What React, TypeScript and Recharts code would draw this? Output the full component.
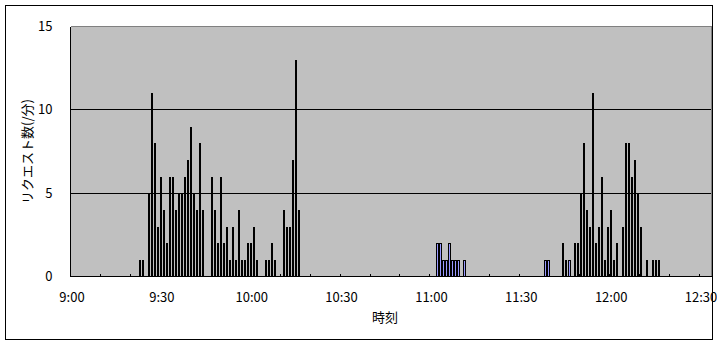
import React from "react";
import { BarChart, Bar, XAxis, YAxis, CartesianGrid, ReferenceLine } from "recharts";

// Requests per minute; minutes are counted from 9:00.
const mainMinutes = [
  23, 24, 26, 27, 28, 29, 30, 31, 32, 33, 34, 35, 36, 37, 38, 39, 40, 41, 42, 43, 44,
  47, 48, 49, 50, 51, 52, 53, 54, 55, 56, 57, 58, 59, 60, 61, 62, 65, 66, 67, 68,
  71, 72, 73, 74, 75, 76,
  164, 165, 168, 169, 170, 171, 172, 173, 174, 175, 176, 177, 178, 179, 180, 181, 182,
  184, 185, 186, 187, 188, 189, 190, 192, 194, 195, 196,
];
const mainCounts = [
  1, 1, 5, 11, 8, 3, 6, 4, 2, 6, 6, 4, 5, 5, 6, 7, 9, 5, 4, 8, 4,
  6, 4, 2, 6, 2, 3, 1, 3, 1, 4, 1, 1, 2, 2, 3, 1, 1, 1, 2, 1,
  4, 3, 3, 7, 13, 4,
  2, 1, 2, 2, 5, 8, 4, 3, 11, 2, 3, 6, 1, 3, 4, 1, 2,
  3, 8, 8, 6, 7, 5, 3, 1, 1, 1, 1,
];

const subMinutes = [122, 123, 124, 125, 126, 127, 128, 129, 131, 158, 159, 166];
const subCounts = [2, 2, 1, 1, 2, 1, 1, 1, 1, 1, 1, 1];

const minuteTicks = [0, 10, 20, 30, 40, 50, 60, 70, 80, 90, 100, 110, 120, 130, 140, 150, 160, 170, 180, 190, 200, 210];
const labelMinutes = [0, 30, 60, 90, 120, 150, 180, 210];
const timeLabels = ["9:00", "9:30", "10:00", "10:30", "11:00", "11:30", "12:00", "12:30"];
const yTicks = [0, 5, 10, 15];
const minuteSpan = 214;

const FONT = '"Noto Sans CJK JP", "Noto Sans", sans-serif';

// one row per minute slot; the bar sits in the middle of its minute
const rows = Array.from({ length: minuteSpan }, (_, m) => {
  const i = mainMinutes.indexOf(m);
  const j = subMinutes.indexOf(m);
  return {
    t: m + 0.5,
    main: i >= 0 ? mainCounts[i] : 0,
    sub: j >= 0 ? subCounts[j] : 0,
  };
});

const MainShape = (p: any) => {
  const { x, y, width, height } = p;
  if (!height || height <= 0) return <g />;
  const cx = x + width / 2;
  const left = Math.round(cx - 1);
  const top = Math.round(y);
  const bottom = Math.round(y + height);
  return <rect x={left} y={top} width={2} height={bottom - top} fill="#000000" />;
};

const SubShape = (p: any) => {
  const { x, y, width, height } = p;
  if (!height || height <= 0) return <g />;
  const cx = x + width / 2;
  const left = Math.round(cx - 1);
  const top = Math.round(y);
  const bottom = Math.round(y + height);
  return (
    <rect
      x={left + 0.5}
      y={top + 0.5}
      width={2}
      height={bottom - top - 0.5}
      fill="#9999FF"
      stroke="#000000"
      strokeWidth={1}
    />
  );
};

const TimeTick = (props: any) => {
  const { x, y, payload } = props;
  const v = payload.value;
  const px = Math.floor(x) + 0.5;
  const k = labelMinutes.indexOf(v);
  return (
    <g>
      <line x1={px} x2={px} y1={y} y2={y - 3} stroke="#000000" strokeWidth={1} />
      {k >= 0 && (
        <text x={x + 1.5} y={y + 25.5} textAnchor="middle" fontSize={13} fill="#000000" fontFamily={FONT}>
          {timeLabels[k]}
        </text>
      )}
    </g>
  );
};

const yTitle = () => (
  <text
    x={26}
    y={151.5}
    transform="rotate(-90 26 151.5)"
    textAnchor="middle"
    dominantBaseline="central"
    fontSize={13}
    fill="#000000"
    fontFamily={FONT}
  >
    リクエスト数(/分)
  </text>
);

const xTitle = () => (
  <text x={385} y={316} textAnchor="middle" dominantBaseline="central" fontSize={13} fill="#000000" fontFamily={FONT}>
    時刻
  </text>
);

export default function App() {
  return (
    <div style={{ position: "absolute", left: 0, top: 0, width: 717, height: 344, background: "#ffffff", fontFamily: FONT }}>
      <div
        style={{
          position: "absolute",
          left: 5,
          top: 5,
          width: 708,
          height: 335,
          boxSizing: "border-box",
          border: "1px solid #000000",
        }}
      />
      <div style={{ position: "absolute", left: 0, top: 0 }}>
        <BarChart
          width={717}
          height={344}
          data={rows}
          margin={{ top: 26.5, right: 5.5, bottom: 37.5, left: 30.5 }}
          barGap={0}
          style={{ shapeRendering: "crispEdges" }}
        >
          <CartesianGrid vertical={false} stroke="#000000" fill="#C0C0C0" fillOpacity={1} />
          <XAxis
            dataKey="t"
            type="number"
            domain={[0, minuteSpan]}
            ticks={minuteTicks}
            interval={0}
            tickSize={0}
            tickMargin={0}
            tickLine={false}
            tick={(p: any) => <TimeTick {...p} />}
            axisLine={{ stroke: "#000000" }}
            height={30}
            allowDataOverflow
            label={xTitle}
          />
          <YAxis
            type="number"
            domain={[0, 15]}
            ticks={yTicks}
            interval={0}
            width={40}
            tickLine={false}
            tickSize={6}
            tickMargin={12}
            axisLine={{ stroke: "#000000" }}
            tick={{ fill: "#000000", fontSize: 13, fontFamily: FONT }}
            allowDataOverflow
            label={yTitle}
          />
          <ReferenceLine y={15} stroke="#808080" />
          <ReferenceLine x={minuteSpan} stroke="#808080" />
          <Bar dataKey="main" stackId="req" barSize={2} shape={MainShape} isAnimationActive={false} />
          <Bar dataKey="sub" stackId="req" barSize={2} shape={SubShape} isAnimationActive={false} />
        </BarChart>
      </div>
    </div>
  );
}
